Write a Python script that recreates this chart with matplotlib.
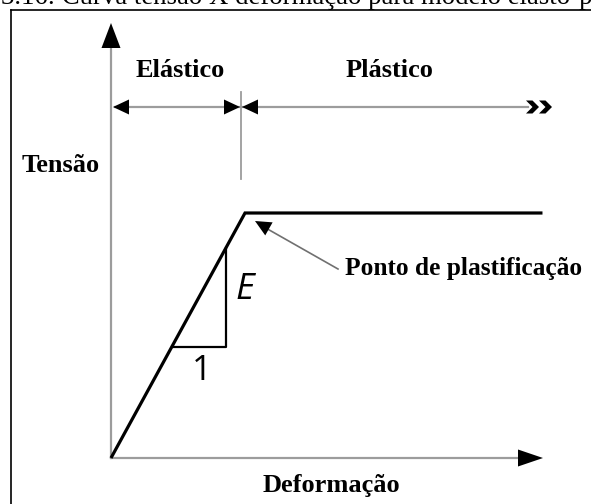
import numpy as np
import matplotlib
matplotlib.use("Agg")
import matplotlib.pyplot as plt
from matplotlib.patches import Polygon

# Elasto-perfectly-plastic model (strain / stress, yield point normalised to 1)
deformacao = [0.0, 1.0, 3.22]
tensao = [0.0, 1.0, 1.0]
# strain values where the slope triangle touches the elastic branch
triangulo_x = [0.455, 0.858]

caption = "3.16: Curva tensão X deformação para modelo elasto-plástico"
label_x = "Deformação"
label_y = "Tensão"
label_elastico = "Elástico"
label_plastico = "Plástico"
label_ponto = "Ponto de plastificação"

W, H = 591, 504
ORIGIN = (111, 458)        # pixel position of the axes origin
UNIT = (134, 245)          # pixels per unit of strain / stress

GRAY = "#9c9c9c"
SERIF = "Liberation Serif"

fig = plt.figure(figsize=(W / 100, H / 100), dpi=100)

# data axes: the stress-strain curve
ax = fig.add_axes([0, 0, 1, 1])
ax.set_xlim(-ORIGIN[0] / UNIT[0], (W - ORIGIN[0]) / UNIT[0])
ax.set_ylim(-(H - ORIGIN[1]) / UNIT[1], ORIGIN[1] / UNIT[1])
ax.axis("off")

# decoration axes in pixel coordinates (y down)
deco = fig.add_axes([0, 0, 1, 1], zorder=-1)
deco.set_xlim(0, W)
deco.set_ylim(H, 0)
deco.axis("off")


def head(tip, direction, length, half):
    d = np.array(direction, dtype=float)
    d /= np.hypot(*d)
    n = np.array([-d[1], d[0]])
    t = np.array(tip, dtype=float)
    base = t - d * length
    pts = [t, base + n * half, base - n * half]
    deco.add_patch(Polygon(pts, closed=True, color="black", lw=0, zorder=5))


def chevron(x0, y, w=13, h=13, t=6.5):
    pts = [(x0, y - h / 2), (x0 + t, y - h / 2), (x0 + w, y),
           (x0 + t, y + h / 2), (x0, y + h / 2), (x0 + w - t, y)]
    deco.add_patch(Polygon(pts, closed=True, color="black", lw=0, zorder=5))


# frame (only left and top borders are visible in the crop)
deco.plot([11, 11], [H, 10], color="black", lw=1.2)
deco.plot([11, W], [10, 10], color="black", lw=1.2)

# caption, clipped at the top of the image like in the source page
deco.text(1, 4.5, caption, family=SERIF, fontsize=19.3, ha="left", va="baseline")

# axes arrows
deco.plot([ORIGIN[0], ORIGIN[0]], [ORIGIN[1], 40], color=GRAY, lw=1.6)
head((ORIGIN[0], 23), (0, -1), 25, 9.5)
deco.plot([ORIGIN[0], 525], [ORIGIN[1], ORIGIN[1]], color=GRAY, lw=1.6)
head((543, ORIGIN[1]), (1, 0), 25, 8.5)

# elastic / plastic dimension lines
dim_y = 107
deco.plot([115, 528], [dim_y, dim_y], color=GRAY, lw=1.6)
head((113, dim_y), (-1, 0), 16, 7.5)
head((240, dim_y), (1, 0), 16, 7.5)
head((242, dim_y), (-1, 0), 16, 7.5)
chevron(526, dim_y)
chevron(539, dim_y)
deco.plot([241, 241], [92, 179], color=GRAY, lw=1.3)

# yield point annotation
deco.plot([338, 264], [269, 227], color="#707070", lw=1.2)
head((255, 221), (-76, -43), 16, 7.5)

# curve
ax.plot(deformacao, tensao, color="black", lw=2.3, solid_joinstyle="miter",
        solid_capstyle="butt", zorder=4)

# slope triangle
y_low, y_high = np.interp(triangulo_x, deformacao, tensao)
ax.plot([triangulo_x[0], triangulo_x[1], triangulo_x[1]],
        [y_low, y_low, y_high], color="black", lw=1.6, zorder=3)
ax.text(triangulo_x[1] + 0.14, (y_low + y_high) / 2 + 0.03, "E",
        family="Open Sans", style="italic", fontsize=26, ha="center", va="center")
ax.text((triangulo_x[0] + triangulo_x[1]) / 2 + 0.02, y_low - 0.1, "1",
        family="Open Sans", fontsize=25, ha="center", va="center")

# labels
bold = dict(family=SERIF, fontweight="bold", fontsize=19, va="baseline")
deco.text(180, 77, label_elastico, ha="center", **bold)
deco.text(390, 77, label_plastico, ha="center", **bold)
deco.text(22, 172, label_y, ha="left", **bold)
deco.text(345, 275, label_ponto, ha="left", **dict(bold, fontsize=18.3))
deco.text(331, 492, label_x, ha="center", **bold)

fig.savefig("out.png", dpi=100, facecolor="white")
plt.close(fig)
